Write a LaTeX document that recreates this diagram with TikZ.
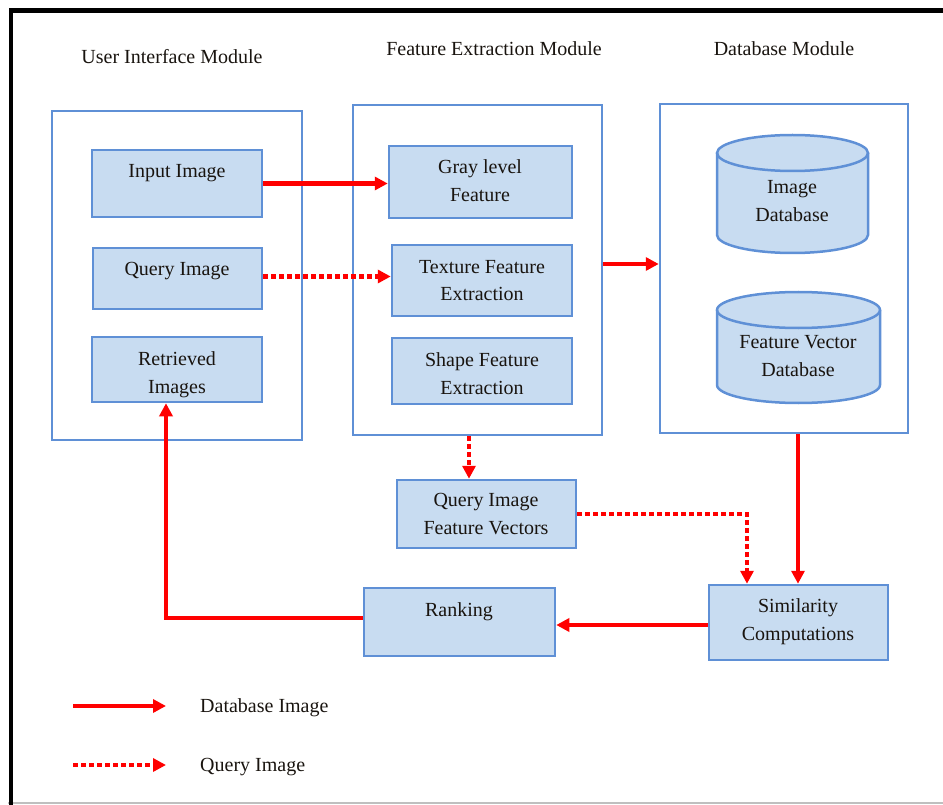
\documentclass[tikz,border=0pt]{standalone}
\usepackage{fontspec}
\setmainfont{Liberation Serif}
\usetikzlibrary{arrows.meta,calc}
\definecolor{boxline}{RGB}{95,144,214}
\definecolor{boxfill}{RGB}{200,220,241}
\definecolor{arrred}{RGB}{255,0,0}
\definecolor{txtcol}{RGB}{25,20,15}
\begin{document}
\begin{tikzpicture}[x=1pt,y=-1pt,
  box/.style={draw=boxline, fill=boxfill, line width=2.5pt, inner sep=0pt},
  module/.style={draw=boxline, line width=2.5pt, inner sep=0pt},
  txt/.style={font=\fontsize{20}{28}\selectfont, text=txtcol, align=center, anchor=base, inner sep=0pt},
  ltxt/.style={txt, anchor=base west},
  darrow/.style={draw=arrred, line width=4.2pt, -{Triangle[length=13pt,width=13pt]}},
  qarrow/.style={darrow, dash pattern=on 4.5pt off 3.5pt},
]
\useasboundingbox (0,0) rectangle (943,805);
% frame
\draw[black!25, line width=1.2pt] (8,803) -- (943,803);
\draw[black, line width=4.5pt] (943,10.5) -- (11,10.5) -- (11,805);

% module titles
\node[txt] (uiT) at (172,64) {User Interface Module};
\node[txt] (feT) at (494,56) {Feature Extraction Module};
\node[txt] (dbT) at (784,56) {Database Module};

% module boxes
\node[module, minimum width=250pt, minimum height=329pt] (ui) at (177,275.5) {};
\node[module, minimum width=249pt, minimum height=330pt] (fe) at (477.5,270) {};
\node[module, minimum width=248pt, minimum height=329pt] (db) at (784,268.5) {};

% inner boxes
\node[box, minimum width=170pt, minimum height=67pt] (input) at (177,183.5) {};
\node[box, minimum width=169pt, minimum height=61pt] (query) at (177.5,278.5) {};
\node[box, minimum width=170pt, minimum height=65pt] (retr) at (177,369.5) {};
\node[box, minimum width=183pt, minimum height=72pt] (gray) at (480.5,182) {};
\node[box, minimum width=180pt, minimum height=71pt] (texture) at (482,280.5) {};
\node[box, minimum width=180pt, minimum height=66pt] (shape) at (482,371) {};
\node[box, minimum width=179pt, minimum height=68pt] (qfv) at (486.5,514) {};
\node[box, minimum width=191pt, minimum height=68pt] (rank) at (459.5,622) {};
\node[box, minimum width=179pt, minimum height=75pt] (sim) at (798.5,622.5) {};

% cylinders
\fill[boxfill] (717,153) -- (717,235) arc[start angle=180,end angle=0,x radius=75.5,y radius=18] -- (868,153) arc[start angle=0,end angle=-180,x radius=75.5,y radius=18] -- cycle;
\draw[boxline, line width=2.5pt] (717,153) -- (717,235) arc[start angle=180,end angle=0,x radius=75.5,y radius=18] -- (868,153);
\draw[boxline, line width=2.5pt] (792.5,153) ellipse[x radius=75.5,y radius=18];
\fill[boxfill] (717,310) -- (717,385) arc[start angle=180,end angle=0,x radius=81.5,y radius=18] -- (880,310) arc[start angle=0,end angle=-180,x radius=81.5,y radius=18] -- cycle;
\draw[boxline, line width=2.5pt] (717,310) -- (717,385) arc[start angle=180,end angle=0,x radius=81.5,y radius=18] -- (880,310);
\draw[boxline, line width=2.5pt] (798.5,310) ellipse[x radius=81.5,y radius=18];

% texts in boxes
\node[txt] (inputT) at (177,178) {Input Image};
\node[txt] (queryT) at (177,276) {Query Image};
\node[txt] (retrT) at (177,393) {Retrieved\\Images};
\node[txt] (grayT) at (480,202) {Gray level\\Feature};
\node[txt] (textureT) at (482,301) {Texture Feature\\Extraction};
\node[txt] (shapeT) at (482,394) {Shape Feature\\Extraction};
\node[txt] (imgdbT) at (792,222) {Image\\Database};
\node[txt] (fvdbT) at (798,376) {Feature Vector\\Database};
\node[txt] (qfvT) at (486,534) {Query Image\\Feature Vectors};
\node[txt] (rankT) at (459,616) {Ranking};
\node[txt] (simT) at (798,640) {Similarity\\Computations};

% connectors
\draw[darrow] (input.east) -- (input.east -| gray.west);
\draw[qarrow] ([yshift=2pt]query.east) -- ([yshift=2pt]query.east -| texture.west);
\draw[darrow] ([yshift=6pt]fe.east) -- ([yshift=6pt]fe.east -| db.west);
\draw[qarrow] ([xshift=-8.5pt]fe.south) -- ([xshift=-8.5pt]fe.south |- qfv.north);
\draw[qarrow] (qfv.east) -| ([xshift=-51.5pt]sim.north);
\draw[darrow] ([xshift=14pt]db.south) -- ([xshift=14pt]db.south |- sim.north);
\draw[darrow] ([yshift=-2.5pt]sim.west) -- ([yshift=-2.5pt]sim.west -| rank.east);
\draw[darrow] ([yshift=4pt]rank.west) -| ([xshift=-11pt]retr.south);

% legend
\coordinate (l1a) at (73,706);
\coordinate (l1b) at (166,706);
\coordinate (l2a) at (73,765);
\coordinate (l2b) at (166,765);
\draw[darrow] (l1a) -- (l1b);
\draw[qarrow] (l2a) -- (l2b);
\node[ltxt] (leg1) at (200,712) {Database Image};
\node[ltxt] (leg2) at (200,771) {Query Image};
\end{tikzpicture}
\end{document}
